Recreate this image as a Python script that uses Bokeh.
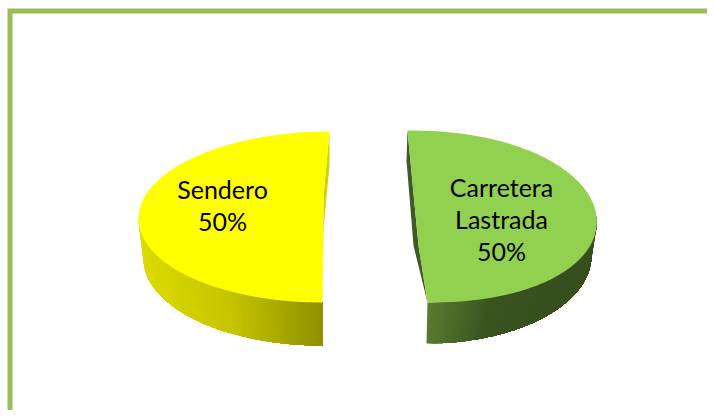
import numpy as np
from bokeh.plotting import figure
from bokeh.models import Range1d
from bokeh.core.properties import value
from bokeh.embed import file_html
from bokeh.resources import INLINE

# data
categories = [["Sendero"], ["Carretera", "Lastrada"]]
shares = [50, 50]
top_colors = ["#ffff00", "#92d050"]
side_stops = [["#dcdc00", "#c4c400", "#8e8e00"], ["#567a2e", "#3a5320", "#38501f", "#38501f"]]
cut_colors = ["#d2d200", "#3f5a24"]
border_color = "#9bbb59"

# layout (picture pixels) for each exploded slice
tops = [dict(cx=325.5, cy=216.5, a=187.5, b=3.5, ry=85.5, n=1.0),
        dict(cx=417.0, cy=216.0, a=179.0, b=-10.0, ry=86.0, n=0.92)]
bottoms = [dict(cx=322.0, cy=258.0, a=179.0, b=0.0, ry=87.0, n=1.0),
           dict(cx=426.0, cy=255.0, a=165.0, b=0.0, ry=88.0, n=1.0)]
inner_face = [[(323, 195)], [(418, 245)]]
cut_outer = [[(329, 165), (323, 228)], [(413, 245), (406, 160)]]
label_x = [222, 501]
label_base = [188, 186]
line_step = 32

W, H = 707, 410
p = figure(width=W, height=H, output_backend="svg", toolbar_location=None,
           x_range=Range1d(0, W), y_range=Range1d(H, 0), min_border=0,
           outline_line_color=None, background_fill_color="white")
p.axis.visible = False
p.grid.visible = False


def rim(g, t):
    c = np.cos(t)
    return g["cx"] + g["a"] * np.sign(c) * np.abs(c) ** g["n"] + g["b"] * np.sin(t), g["cy"] - g["ry"] * np.sin(t)


def hexrgb(c):
    return np.array([int(c[i:i + 2], 16) for i in (1, 3, 5)], float)


def ramp(stops, f):
    pos = f * (len(stops) - 1)
    i = min(int(pos), len(stops) - 2)
    c = hexrgb(stops[i]) * (1 - (pos - i)) + hexrgb(stops[i + 1]) * (pos - i)
    return "#%02x%02x%02x" % tuple(int(round(v)) for v in c)


total = sum(shares)
start = np.pi / 2
for i, share in enumerate(shares):
    sweep = 2 * np.pi * share / total
    end = start + sweep
    ts = np.linspace(start, end, 160)

    # outer side wall: the part of this slice's rim on the front half
    wall_t = np.linspace(max(start, np.pi), min(end, 2 * np.pi) if i == 1 else 3 * np.pi / 2, 91)
    xb0 = rim(bottoms[i], wall_t[0])[0]
    xb1 = rim(bottoms[i], wall_t[-1])[0]
    for k in range(len(wall_t) - 1):
        rest = wall_t[k:]
        xt, yt = rim(tops[i], rest)
        xb, yb = rim(bottoms[i], rest[::-1])
        f = (rim(bottoms[i], rest[0])[0] - xb0) / (xb1 - xb0)
        p.patch(list(xt) + list(xb), list(yt) + list(yb), fill_color=ramp(side_stops[i], float(f)), line_color=None)

    # top and bottom points of the slice rim
    xs, ys = rim(tops[i], ts)
    a_pt = (xs[0], ys[0])
    b_pt = (xs[-1], ys[-1])

    # cut face sliver
    cx = [a_pt[0]] + [q[0] for q in cut_outer[i]] + [b_pt[0]] + [q[0] for q in inner_face[i]]
    cy = [a_pt[1]] + [q[1] for q in cut_outer[i]] + [b_pt[1]] + [q[1] for q in inner_face[i]]
    p.patch(cx, cy, fill_color=cut_colors[i], line_color=None)

    # top face
    fx = list(xs) + [q[0] for q in inner_face[i]]
    fy = list(ys) + [q[1] for q in inner_face[i]]
    p.patch(fx, fy, fill_color=top_colors[i], line_color=None)

    # label
    lines = categories[i] + ["%d%%" % round(100 * share / total)]
    p.text([label_x[i]] * len(lines), [label_base[i] + line_step * n for n in range(len(lines))],
           text=lines, text_font=value("Lato"), text_font_size="25px", text_color="black",
           text_align="center", text_baseline="alphabetic")
    start = end

# frame: left and top rules running off the picture
p.line([9.5, 9.5, W], [H, 10.5, 10.5], line_color=border_color, line_width=5, line_join="miter")

open("out.html", "w").write(file_html(p, INLINE))
